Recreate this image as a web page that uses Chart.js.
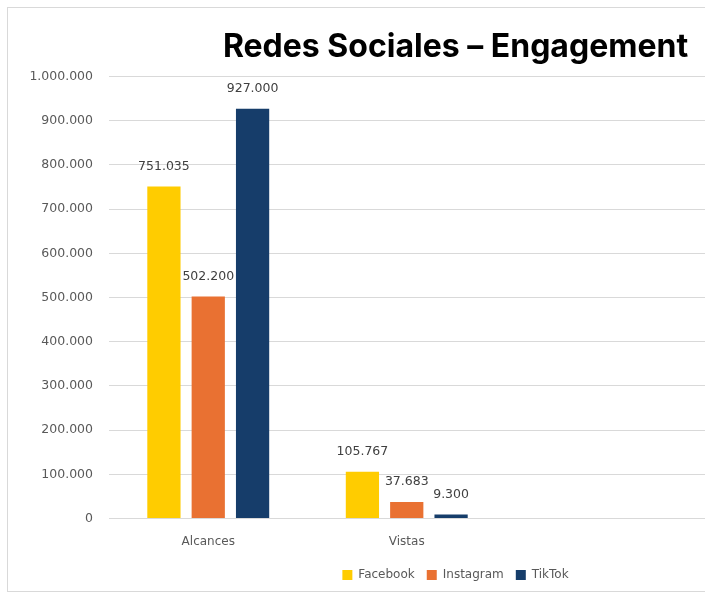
<!DOCTYPE html>
<html>
<head>
<meta charset="utf-8">
<script src="https://cdn.jsdelivr.net/npm/chart.js@4"></script>
<style>
  html, body { margin: 0; padding: 0; background: #fff; overflow: hidden; width: 705px; height: 598px; }
  #frame { position: absolute; left: 7px; top: 7px; width: 905px; height: 583px; border: 1px solid #d9d9d9; }
</style>
</head>
<body>
<div id="frame"><canvas id="myChart"></canvas></div>
<script>
const categories = ['Alcances', 'Vistas', '', ''];
const facebook = [751035, 105767, null, null];
const instagram = [502200, 37683, null, null];
const tiktok = [927000, 9300, null, null];
const yTicks = [0, 100000, 200000, 300000, 400000, 500000, 600000, 700000, 800000, 900000, 1000000];

const fmt = v => v.toLocaleString('de-DE');

const ctx = document.getElementById('myChart').getContext('2d');

new Chart(ctx, {
    type: 'bar',
    data: {
        labels: categories,
        datasets: [
            { label: 'Facebook', data: facebook, backgroundColor: '#ffcc00' },
            { label: 'Instagram', data: instagram, backgroundColor: '#e97132' },
            { label: 'TikTok', data: tiktok, backgroundColor: '#163d6a' }
        ]
    },
    options: {
        responsive: true,
        maintainAspectRatio: false,
        animation: false,
        datasets: { bar: { categoryPercentage: 0.67, barPercentage: 0.75 } },
        layout: { padding: { left: 0, right: 10, top: 0, bottom: 0 } },
        scales: {
            x: {
                grid: { display: false },
                border: { display: false },
                ticks: { color: '#595959', font: { family: 'DejaVu Sans', size: 12 }, padding: 8 }
            },
            y: {
                min: 0,
                max: 1000000,
                afterBuildTicks: axis => { axis.ticks = yTicks.map(v => ({ value: v })); },
                afterFit: axis => { axis.width = 101; },
                grid: { color: '#d9d9d9', drawTicks: false },
                border: { display: false },
                ticks: {
                    color: '#595959',
                    font: { family: 'DejaVu Sans', size: 12.5 },
                    padding: 16,
                    callback: v => fmt(v)
                }
            }
        },
        plugins: {
            title: {
                display: true,
                text: 'Redes Sociales – Engagement',
                color: '#000',
                font: { family: 'Inter', size: 32, weight: 'bold' },
                padding: { top: 20, bottom: 10 }
            },
            legend: {
                position: 'bottom',
                labels: {
                    color: '#595959',
                    font: { family: 'DejaVu Sans', size: 12 },
                    boxWidth: 10,
                    boxHeight: 10,
                    padding: 12
                }
            },
            tooltip: { enabled: false }
        }
    },
    plugins: [{
        afterDatasetsDraw: function(chart) {
            const c = chart.ctx;
            c.save();
            c.fillStyle = '#404040';
            c.font = '12.5px "DejaVu Sans"';
            c.textAlign = 'center';
            c.textBaseline = 'middle';
            chart.data.datasets.forEach((ds, i) => {
                chart.getDatasetMeta(i).data.forEach((bar, j) => {
                    if (ds.data[j] == null) return;
                    c.fillText(fmt(ds.data[j]), bar.x, bar.y - 20);
                });
            });
            c.restore();
        }
    }]
});
</script>
</body>
</html>
